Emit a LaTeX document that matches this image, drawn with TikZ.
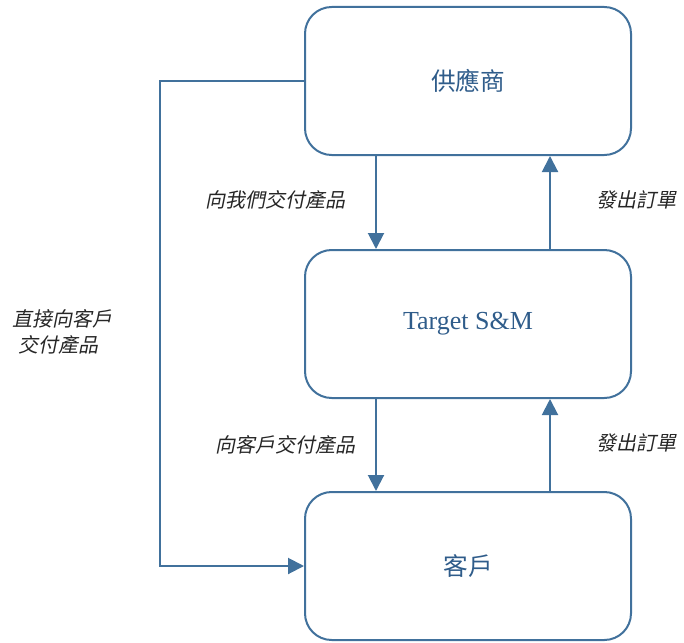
\documentclass[tikz,border=0pt]{standalone}
\usepackage{fontspec}
\setmainfont{Liberation Serif}
\newfontfamily\cjk{Noto Sans CJK TC}
\newfontfamily\cjki[FakeSlant=0.2]{Noto Sans CJK TC}
\usetikzlibrary{arrows.meta}
\definecolor{lineblue}{HTML}{41719C}
\definecolor{textblue}{HTML}{2F5C8A}
\begin{document}
\begin{tikzpicture}[x=0.75pt,y=-0.75pt,
  box/.style={draw=lineblue,line width=1.5pt,rounded corners=20pt,minimum width=326*0.75pt,minimum height=148*0.75pt,inner sep=0pt,text=textblue},
  conn/.style={draw=lineblue,line width=1.5pt},
  arr/.style={conn,-{Triangle[width=12pt,length=12pt]}},
  lbl/.style={font=\cjki\fontsize{15pt}{19pt}\selectfont,text=black!85,inner sep=0pt}]
\useasboundingbox (0,0) rectangle (684,642);
\node[box,font=\cjk\fontsize{18.5pt}{22pt}\selectfont] (top) at (468,81) {供應商};
\node[box,font=\fontsize{19.5pt}{22pt}\selectfont] (mid) at (468,324) {Target S\&M};
\node[box,font=\cjk\fontsize{18.5pt}{22pt}\selectfont] (bot) at (468,566) {客戶};
\coordinate (c1) at (376,0);
\coordinate (c2) at (550,0);
\coordinate (lc) at (160,300);
\draw[arr] (top.south -| c1) -- (mid.north -| c1);
\draw[arr] (mid.north -| c2) -- (top.south -| c2);
\draw[arr] (mid.south -| c1) -- (bot.north -| c1);
\draw[arr] (bot.north -| c2) -- (mid.south -| c2);
\draw[arr] (top.west) -| (lc) |- (bot.west);
\node[lbl] (l1) at (275,200) {向我們交付產品};
\node[lbl] (l2) at (636,200) {發出訂單};
\node[lbl] (l3) at (285,445) {向客戶交付產品};
\node[lbl] (l4) at (636,443) {發出訂單};
\node[lbl,anchor=west,align=left] (l5) at (12,332) {直接向客戶\\\hspace{5pt}交付產品};
\end{tikzpicture}
\end{document}
